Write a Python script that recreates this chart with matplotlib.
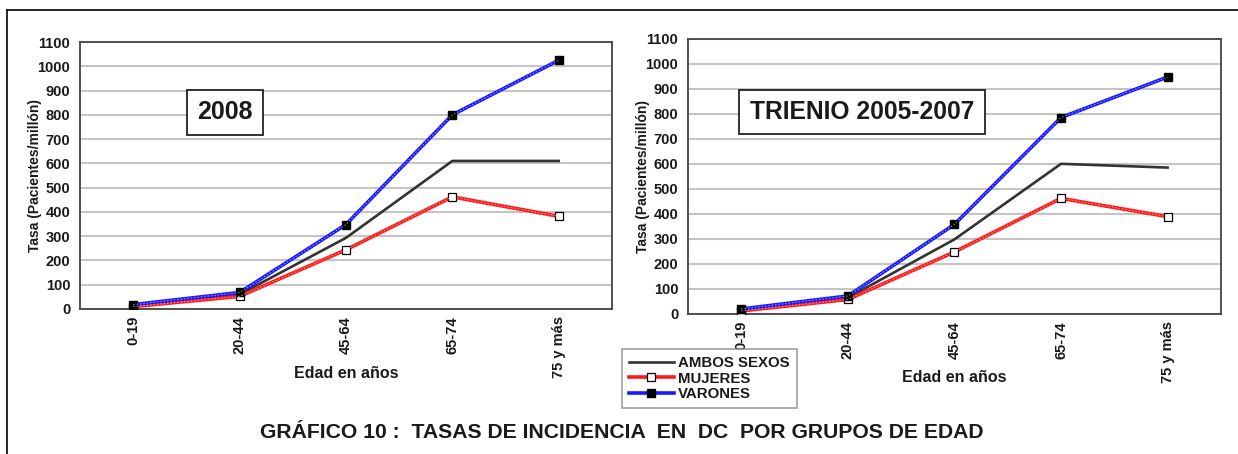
import matplotlib.pyplot as plt
from matplotlib.lines import Line2D

plt.rcParams['font.family'] = ['Liberation Sans', 'DejaVu Sans']
plt.rcParams['font.weight'] = 'bold'

# === Data ===
grupos = ["0-19", "20-44", "45-64", "65-74", "75 y más"]

# 2008
ambos_2008 = [15, 60, 293, 610, 610]
mujeres_2008 = [10, 52, 244, 462, 382]
varones_2008 = [18, 68, 348, 800, 1025]

# Trienio 2005-2007
ambos_trienio = [15, 65, 298, 600, 585]
mujeres_trienio = [12, 58, 248, 462, 389]
varones_trienio = [20, 72, 358, 785, 947]

BLUE = "#1a1aff"
RED = "#ff1a1a"
TXT = "#1a1a1a"


def draw_panel(ax, ambos, mujeres, varones, xlab_top):
    x = range(len(grupos))
    ax.plot(x, ambos, color="#333333", lw=1.9, zorder=3, label="AMBOS SEXOS")
    ax.plot(x, mujeres, color=RED, lw=2.6, zorder=3, marker="s", ms=5.5,
            mfc="white", mec="black", mew=0.9, label="MUJERES")
    ax.plot(x, mujeres, color="white", lw=0.7, ls=(0, (1.5, 2)), alpha=0.6, zorder=4)
    ax.plot(x, varones, color=BLUE, lw=2.6, zorder=3, marker="s", ms=5.5,
            mfc="black", mec="black", label="VARONES")
    ax.plot(x, varones, color="white", lw=0.7, ls=(0, (1.5, 2)), alpha=0.6, zorder=4)

    ax.set_xlim(-0.5, len(grupos) - 0.5)
    ax.set_ylim(0, 1100)
    ax.set_yticks(range(0, 1101, 100))
    ax.set_xticks(list(x))
    ax.set_xticklabels(grupos, rotation=90, fontsize=10.5, fontweight="bold", color=TXT)
    for lab in ax.get_yticklabels():
        lab.set_fontsize(10.5)
        lab.set_fontweight("bold")
        lab.set_color(TXT)
    ax.tick_params(axis="y", length=0, pad=7)
    ax.tick_params(axis="x", length=0, pad=5)
    ax.grid(axis="y", color="#c4c4c4", lw=1.5, zorder=0)
    for s in ax.spines.values():
        s.set_color("#444444")
        s.set_linewidth(1.3)
    ax.set_ylabel("Tasa (Pacientes/millón)", fontsize=10, fontweight="bold", labelpad=-3, color=TXT)
    ax.set_xlabel("Edad en años", fontsize=11.5, fontweight="bold", color=TXT)
    # x label top edge placed in figure pixels
    bbox = ax.get_position()
    yfig = 1 - xlab_top / 454
    ax.xaxis.set_label_coords(0.5, (yfig - bbox.y0) / bbox.height)
    return ax


fig = plt.figure(figsize=(12.38, 4.54), dpi=100)

ax1 = fig.add_axes([0.0646, 0.3194, 0.4297, 0.588])
draw_panel(ax1, ambos_2008, mujeres_2008, varones_2008, 366)
ax1.text(225 / 1238, 1 - 112 / 454, "2008", transform=fig.transFigure,
         ha="center", va="center", fontsize=18, fontweight="bold", zorder=10, color=TXT,
         bbox=dict(boxstyle="square,pad=0.42", fc="white", ec="#222222", lw=1.3))

ax2 = fig.add_axes([0.5557, 0.3084, 0.4305, 0.6064])
draw_panel(ax2, ambos_trienio, mujeres_trienio, varones_trienio, 370)
ax2.text(862 / 1238, 1 - 112 / 454, "TRIENIO 2005-2007", transform=fig.transFigure,
         ha="center", va="center", fontsize=17.7, fontweight="bold", zorder=10, color=TXT,
         bbox=dict(boxstyle="square,pad=0.42", fc="white", ec="#222222", lw=1.3))

# legend
handles, labels = ax2.get_legend_handles_labels()
leg = fig.legend(handles, labels, loc="upper left", bbox_to_anchor=(622 / 1238, 1 - 349 / 454),
                 frameon=True, fancybox=False, fontsize=10.8, handlelength=3.0,
                 labelspacing=0.12, borderpad=0.45, borderaxespad=0, handletextpad=0.3)
leg.get_frame().set_edgecolor("#888888")
leg.get_frame().set_linewidth(1.2)
for t in leg.get_texts():
    t.set_fontweight("bold")
    t.set_color(TXT)

fig.text(622 / 1238, 1 - 432 / 454,
         "GRÁFICO 10 :  TASAS DE INCIDENCIA  EN  DC  POR GRUPOS DE EDAD",
         ha="center", va="center", fontsize=15.2, fontweight="bold", color=TXT)

# outer frame (top and left edges)
fig.add_artist(Line2D([7 / 1238, 1], [1 - 10 / 454, 1 - 10 / 454], color="black", lw=1.2,
                      transform=fig.transFigure))
fig.add_artist(Line2D([7 / 1238, 7 / 1238], [0, 1 - 10 / 454], color="black", lw=1.2,
                      transform=fig.transFigure))

fig.savefig("out.png", dpi=100)
